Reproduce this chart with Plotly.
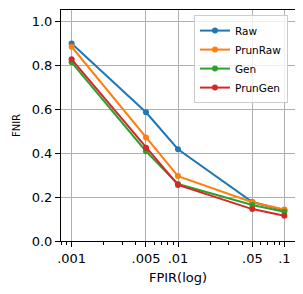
import plotly.graph_objects as go

fpir = [0.001, 0.005, 0.01, 0.05, 0.1]
raw = [0.898, 0.585, 0.417, 0.177, 0.140]
prun_raw = [0.883, 0.471, 0.295, 0.176, 0.143]
gen = [0.812, 0.408, 0.259, 0.164, 0.133]
prun_gen = [0.826, 0.424, 0.255, 0.145, 0.115]

series = [("Raw", raw, "#1f77b4"), ("PrunRaw", prun_raw, "#ff7f0e"),
          ("Gen", gen, "#2ca02c"), ("PrunGen", prun_gen, "#d62728")]

xtick_vals = [0.001, 0.005, 0.01, 0.05, 0.1]
xtick_text = [".001", ".005", ".01", ".05", ".1"]
minor_vals = [0.0008, 0.0009, 0.002, 0.003, 0.004, 0.006, 0.007, 0.008, 0.009,
              0.02, 0.03, 0.04, 0.06, 0.07, 0.08, 0.09]

fig = go.Figure()
for name, vals, color in series:
    fig.add_trace(go.Scatter(x=fpir, y=vals, name=name, mode="lines+markers",
                             line=dict(color=color, width=2),
                             marker=dict(color=color, size=6)))

font = "DejaVu Sans"
fig.update_layout(
    width=295, height=286,
    margin=dict(l=53, r=8, t=2, b=53, autoexpand=False),
    paper_bgcolor="white", plot_bgcolor="white",
    font=dict(family=font, size=13, color="black"),
    showlegend=True,
    legend=dict(x=0.97, y=0.978, xanchor="right", yanchor="top",
                bgcolor="rgba(255,255,255,0.8)", bordercolor="#cccccc", borderwidth=1,
                font=dict(size=10.5, family=font), tracegroupgap=0,
                itemwidth=30),
    xaxis=dict(type="log", range=[-3.1, -0.9], tickmode="array",
               tickvals=xtick_vals, ticktext=xtick_text, automargin=False,
               tickfont=dict(size=13),
               showgrid=True, gridcolor="#b0b0b0", gridwidth=1,
               showline=True, mirror=True, linecolor="black", linewidth=1,
               ticks="outside", ticklen=5, tickcolor="black",
               minor=dict(tickvals=minor_vals, ticks="outside", ticklen=3,
                          tickcolor="black", showgrid=False),
               title=dict(text="FPIR(log)", standoff=8, font=dict(size=13)),
               zeroline=False),
    yaxis=dict(range=[0, 1.05], tickmode="array", automargin=False,
               tickvals=[0, 0.2, 0.4, 0.6, 0.8, 1.0],
               ticktext=["0.0", "0.2", "0.4", "0.6", "0.8", "1.0"],
               tickfont=dict(size=13),
               showgrid=True, gridcolor="#b0b0b0", gridwidth=1,
               showline=True, mirror=True, linecolor="black", linewidth=1,
               ticks="outside", ticklen=5, tickcolor="black",
               title=dict(text="FNIR", standoff=9, font=dict(size=10)),
               zeroline=False),
)

fig.write_html("out.html")
